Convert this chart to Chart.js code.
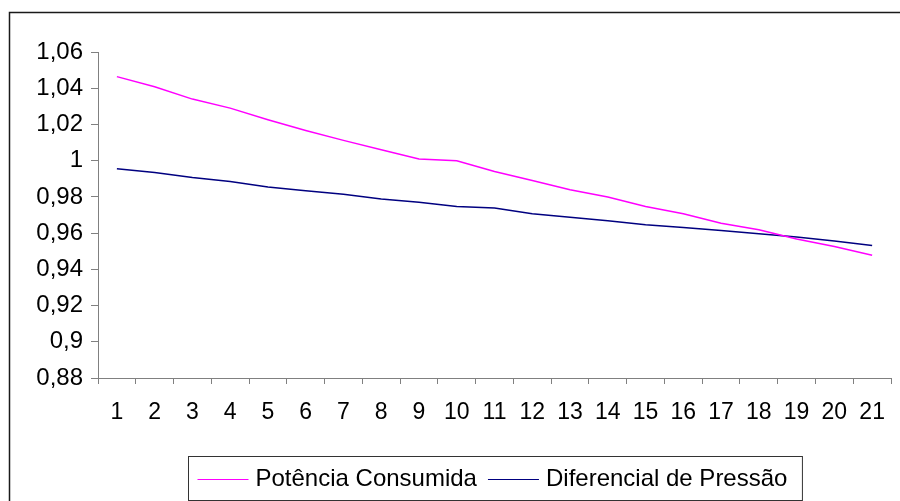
<!DOCTYPE html>
<html>
<head>
<meta charset="utf-8">
<script src="https://cdn.jsdelivr.net/npm/chart.js@4/dist/chart.umd.min.js"></script>
<style>
  html, body { margin: 0; padding: 0; background: #fff; }
  canvas { display: block; }
</style>
</head>
<body>
<canvas id="chart" width="900" height="501"></canvas>
<script>
  // categories and series
  const categories = ["1", "2", "3", "4", "5", "6", "7", "8", "9", "10", "11",
    "12", "13", "14", "15", "16", "17", "18", "19", "20", "21"];
  const potenciaConsumida = [1.0464, 1.0408, 1.034, 1.029, 1.0226, 1.0167, 1.0112,
    1.006, 1.0009, 1.0, 0.994, 0.989, 0.9839, 0.9799, 0.9747, 0.9707, 0.9655,
    0.9618, 0.9567, 0.9526, 0.9478];
  const diferencialPressao = [0.9955, 0.9935, 0.9907, 0.9885, 0.9854, 0.9834, 0.9815,
    0.9789, 0.977, 0.9747, 0.9738, 0.9707, 0.9688, 0.9668, 0.9646, 0.9631, 0.9614,
    0.9596, 0.9578, 0.9556, 0.9532];
  const yTickValues = [0.88, 0.9, 0.92, 0.94, 0.96, 0.98, 1, 1.02, 1.04, 1.06];

  const fontFamily = '"Liberation Sans", Arial, sans-serif';
  const axisGray = "#808080";

  // frame around the chart + white background
  const framePlugin = {
    id: "frame",
    beforeDraw(chart) {
      const ctx = chart.ctx;
      ctx.save();
      ctx.fillStyle = "#fff";
      ctx.fillRect(0, 0, chart.width, chart.height);
      ctx.strokeStyle = "#1a1a1a";
      ctx.lineWidth = 1.5;
      ctx.strokeRect(9.5, 12.5, chart.width + 20, chart.height + 20);
      ctx.restore();
    }
  };

  // boxed legend under the axis, like the Excel one
  const boxLegend = {
    id: "boxLegend",
    afterDraw(chart) {
      const ctx = chart.ctx;
      const area = chart.chartArea;
      ctx.save();
      ctx.font = "24px " + fontFamily;
      const sample = 51, gapText = 7, gapItem = 11, padL = 9, padR = 15;
      const items = chart.data.datasets.map(ds => ({
        text: ds.label,
        color: ds.borderColor,
        w: ctx.measureText(ds.label).width
      }));
      let total = padL + padR;
      items.forEach((it, i) => {
        total += sample + gapText + it.w + (i > 0 ? gapItem : 0);
      });
      const left = Math.round((area.left + area.right) / 2 - total / 2) + 0.5;
      const top = 456.5, bottom = 500.5;
      const cy = (top + bottom) / 2;
      ctx.strokeStyle = "#333";
      ctx.lineWidth = 1;
      ctx.strokeRect(left, top, total, bottom - top);

      let x = left + padL;
      ctx.textBaseline = "middle";
      ctx.fillStyle = "#000";
      items.forEach((it, i) => {
        if (i > 0) x += gapItem;
        ctx.strokeStyle = it.color;
        ctx.lineWidth = 1;
        ctx.beginPath();
        ctx.moveTo(x, Math.round(cy) + 0.5);
        ctx.lineTo(x + sample, Math.round(cy) + 0.5);
        ctx.stroke();
        x += sample + gapText;
        ctx.fillText(it.text, x, cy + 1);
        x += it.w;
      });
      ctx.restore();
    }
  };

  const chart = new Chart(document.getElementById("chart").getContext("2d"), {
    type: "line",
    data: {
      labels: categories,
      datasets: [
        {
          label: "Potência Consumida",
          data: potenciaConsumida,
          borderColor: "#ff00ff",
          backgroundColor: "#ff00ff",
          borderWidth: 1.5,
          pointRadius: 0,
          tension: 0
        },
        {
          label: "Diferencial de Pressão",
          data: diferencialPressao,
          borderColor: "#000080",
          backgroundColor: "#000080",
          borderWidth: 1.5,
          pointRadius: 0,
          tension: 0
        }
      ]
    },
    options: {
      responsive: false,
      animation: false,
      devicePixelRatio: 1,
      layout: { padding: { left: 9, top: 52, right: 3, bottom: 63 } },
      plugins: {
        legend: { display: false },
        tooltip: { enabled: false }
      },
      scales: {
        x: {
          offset: true,
          grid: {
            offset: true,
            drawOnChartArea: false,
            drawTicks: true,
            tickLength: 6,
            color: axisGray
          },
          border: { color: axisGray, width: 1 },
          ticks: {
            color: "#000",
            padding: 15,
            maxRotation: 0,
            autoSkip: false,
            font: { family: fontFamily, size: 23 }
          },
          afterFit: s => { s.height = 60; }
        },
        y: {
          min: 0.88,
          max: 1.06,
          afterBuildTicks: s => { s.ticks = yTickValues.map(v => ({ value: v })); },
          grid: {
            drawOnChartArea: false,
            drawTicks: true,
            tickLength: 7,
            color: axisGray
          },
          border: { color: axisGray, width: 1 },
          ticks: {
            color: "#000",
            padding: 8,
            font: { family: fontFamily, size: 24 },
            callback: v => String(Number(v.toFixed(2))).replace(".", ",")
          },
          afterFit: s => { s.width = 89; }
        }
      }
    },
    plugins: [framePlugin, boxLegend]
  });
</script>
</body>
</html>
